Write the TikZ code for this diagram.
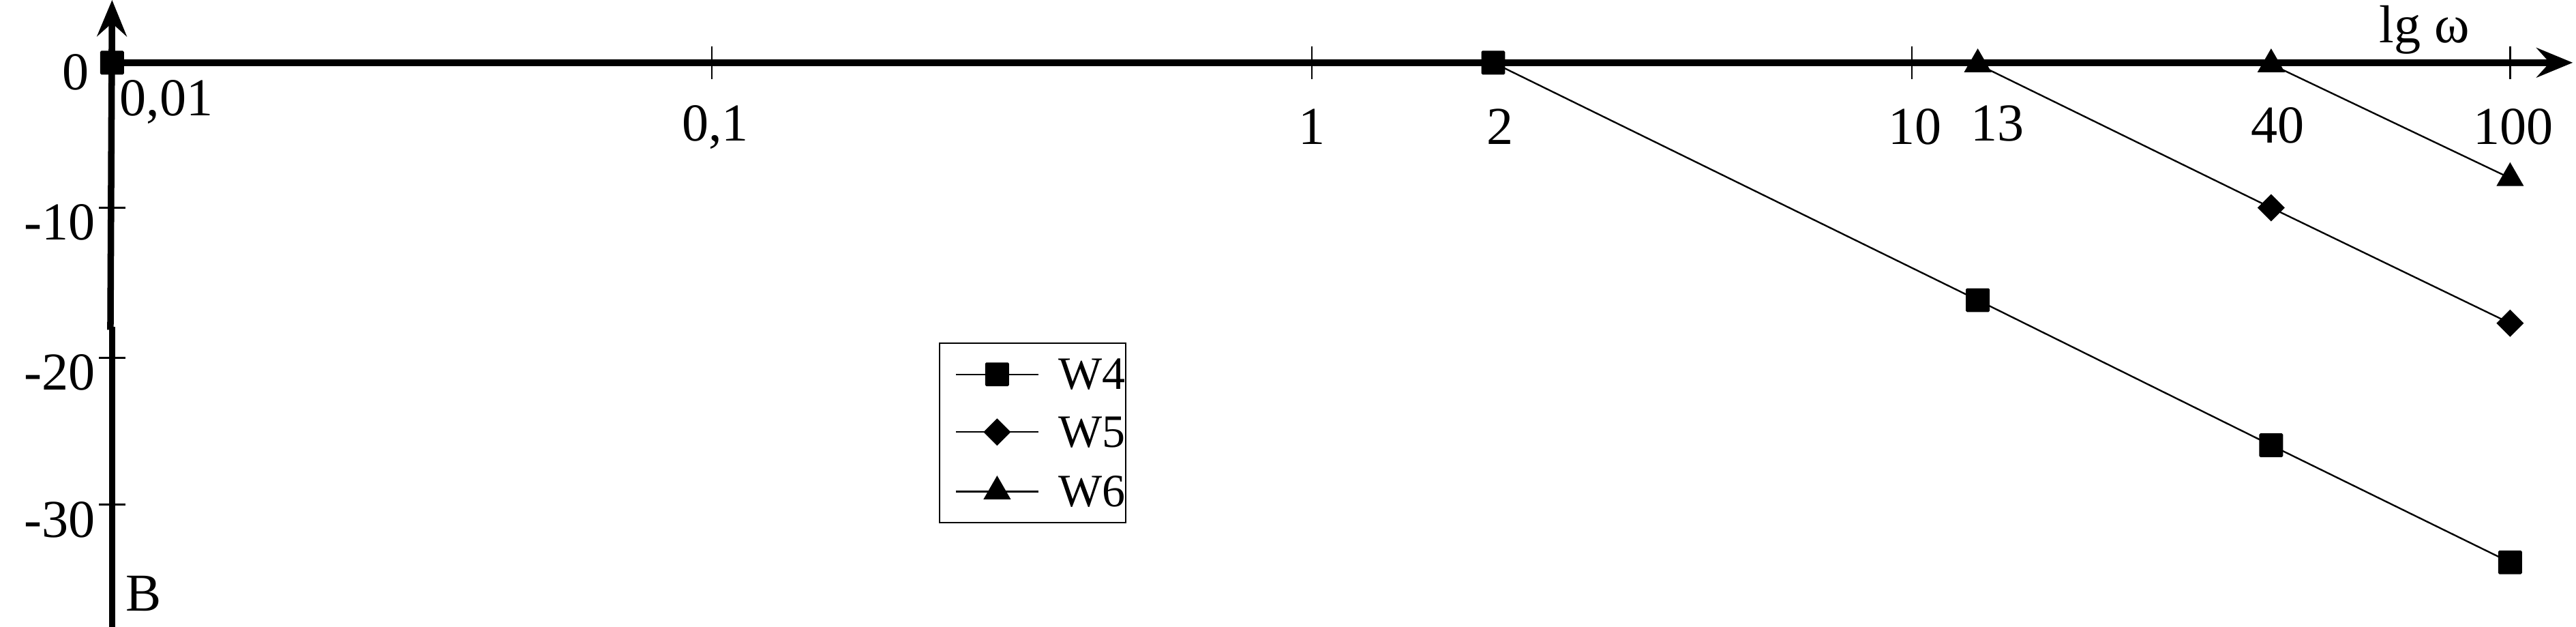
\documentclass[tikz,border=0pt]{standalone}
\usepackage{fontspec}
\setmainfont{Liberation Serif}
\usetikzlibrary{shapes.geometric,arrows.meta}
\begin{document}
\begin{tikzpicture}[x=0.025cm,y=-0.025cm,
  lbl/.style={font=\fontsize{23}{27}\selectfont,inner sep=0pt},
  sq/.style={rectangle,fill=black,minimum size=0.36cm,inner sep=0pt,rounded corners=0.5pt},
  dia/.style={diamond,fill=black,minimum size=0.42cm,inner sep=0pt},
  tri/.style={regular polygon,regular polygon sides=3,fill=black,minimum size=0.48cm,inner sep=0pt},
  thin/.style={line width=0.7pt},
  axis/.style={line width=2.8pt}]
\useasboundingbox (0,0) rectangle (1563,380);
% axes
\coordinate (yb) at (68,380);
\coordinate (ym) at (67,200);
\coordinate (yt) at (68,0);
\coordinate (xo) at (68,38);
\coordinate (xe) at (1561,38);
\draw[axis] (yb) -- (68,198);
\draw[axis,-{Stealth[length=0.55cm,width=0.45cm,inset=0.2cm]}] (ym) -- (yt);
\draw[axis,-{Stealth[length=0.55cm,width=0.45cm,inset=0.2cm]}] (xo) -- (xe);
% y ticks
\foreach \y/\t in {126/-10,217/-20,306/-30}{
  \draw[thin] (60,\y) -- (76,\y);
  \node[lbl,anchor=east] at (58,\y+9) {\t};}
\node[lbl] at (46,44) {0};
\node[lbl] at (87,360) {B};
% x ticks
\foreach \x in {432,796,1160,1523}{\draw[thin] (\x,28) -- (\x,48);}
\node[lbl] at (101,62) {0,01};
\node[lbl] at (434,77) {0,1};
\node[lbl] at (796,77) {1};
\node[lbl] at (910,77) {2};
\node[lbl] at (1162,77) {10};
\node[lbl] at (1212,75) {13};
\node[lbl] at (1382,76) {40};
\node[lbl] at (1525,77) {100};
\node[lbl] at (1471,18) {lg ω};
% W4
\node[sq] (a0) at (68,38) {};
\node[sq] (a1) at (906,38) {};
\node[sq] (a2) at (1200,182) {};
\node[sq] (a3) at (1378,270) {};
\node[sq] (a4) at (1523,341) {};
\draw[thin] (a1.center) -- (a2.center) -- (a3.center) -- (a4.center);
% W5
\node[tri] (b1) at (1200,39) {};
\node[dia] (b2) at (1378,126) {};
\node[dia] (b3) at (1523,196) {};
\draw[thin] (b1.center) -- (b2.center) -- (b3.center);
% W6
\node[tri] (c1) at (1378,39) {};
\node[tri] (c2) at (1523,108) {};
\draw[thin] (c1.center) -- (c2.center);
% legend
\draw[thin] (570,208) rectangle (683,317);
\foreach \yy/\s/\t in {227/sq/W4,262/dia/W5,298/tri/W6}{
  \draw[thin] (580,\yy) -- (630,\yy);
  \node[\s] at (605,\yy) {};
  \node[lbl,anchor=west,font=\fontsize{20}{24}\selectfont] at (642,\yy) {\t};}
\end{tikzpicture}
\end{document}
